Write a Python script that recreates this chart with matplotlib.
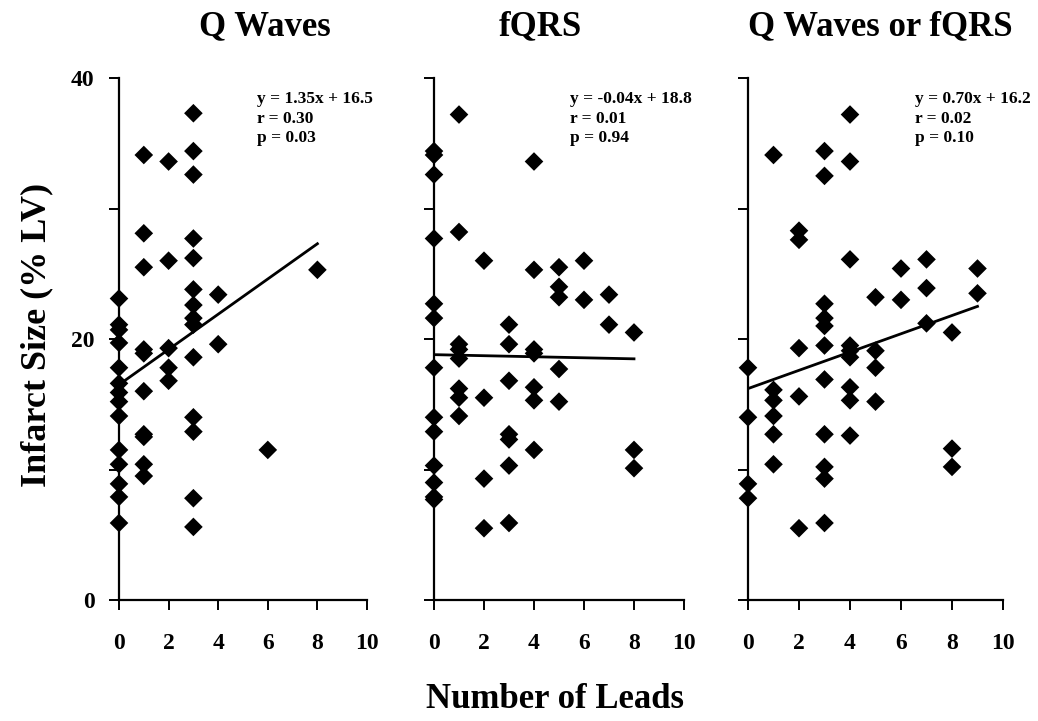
import numpy as np
import matplotlib
matplotlib.use("Agg")
import matplotlib.pyplot as plt

plt.rcParams['font.family'] = ['Liberation Serif', 'DejaVu Serif']
plt.rcParams['font.weight'] = 'bold'

# Q Waves panel
q_x = [0] * 14 + [1] * 10 + [2] * 5 + [3] * 14 + [4] * 2 + [6, 8]
q_y = [23.1, 21.1, 20.7, 19.7, 17.8, 16.6, 15.9, 15.2, 14.1, 11.5, 10.4, 8.9, 7.9, 5.9,
       34.1, 28.1, 25.5, 19.2, 18.9, 16.0, 12.7, 12.5, 10.4, 9.5,
       33.6, 26.0, 19.3, 17.8, 16.8,
       37.3, 34.4, 32.6, 27.7, 26.2, 23.8, 22.6, 21.6, 21.1, 18.6, 14.0, 12.9, 7.8, 5.6,
       23.4, 19.6,
       11.5, 25.3]

# fQRS panel
f_x = ([0] * 13 + [1] * 8 + [2] * 4 + [3] * 7 + [4] * 7 + [5] * 5
       + [6] * 2 + [7] * 2 + [8] * 3)
f_y = [34.4, 34.1, 32.6, 27.7, 22.7, 21.6, 17.8, 14.0, 12.9, 10.3, 9.0, 7.9, 7.7,
       37.2, 28.2, 19.6, 19.2, 18.5, 16.2, 15.5, 14.1,
       26.0, 15.5, 9.3, 5.5,
       21.1, 19.6, 16.8, 12.7, 12.3, 10.3, 5.9,
       33.6, 25.3, 19.2, 18.9, 16.3, 15.3, 11.5,
       25.5, 24.0, 23.2, 17.7, 15.2,
       26.0, 23.0,
       23.4, 21.1,
       20.5, 11.5, 10.1]

# Q Waves or fQRS panel
b_x = ([0] * 4 + [1] * 6 + [2] * 5 + [3] * 11 + [4] * 9 + [5] * 4
       + [6] * 2 + [7] * 3 + [8] * 3 + [9] * 2)
b_y = [17.8, 14.0, 8.9, 7.8,
       34.1, 16.1, 15.3, 14.1, 12.7, 10.4,
       28.3, 27.6, 19.3, 15.6, 5.5,
       34.4, 32.5, 22.7, 21.6, 21.0, 19.5, 16.9, 12.7, 10.2, 9.3, 5.9,
       37.2, 33.6, 26.1, 19.5, 19.1, 18.6, 16.3, 15.3, 12.6,
       23.2, 19.1, 17.8, 15.2,
       25.4, 23.0,
       26.1, 23.9, 21.2,
       20.5, 11.6, 10.2,
       25.4, 23.5]

titles = ['Q Waves', 'fQRS', 'Q Waves or fQRS']
slopes = [1.35, -0.04, 0.70]
intercepts = [16.5, 18.8, 16.2]
fit_max = [8, 8, 9]
stats = ['y = 1.35x + 16.5\nr = 0.30\np = 0.03',
         'y = -0.04x + 18.8\nr = 0.01\np = 0.94',
         'y = 0.70x + 16.2\nr = 0.02\np = 0.10']
text_x = [5.55, 5.42, 6.55]
title_x = [265, 540, 880]

xs = [q_x, f_x, b_x]
ys = [q_y, f_y, b_y]

W, H = 1038, 721
fig = plt.figure(figsize=(W / 100, H / 100), dpi=100)

lefts = [119, 434, 748]
rights = [367, 684, 1003]
top, bottom = 78, 600

for i in range(3):
    ax = fig.add_axes([lefts[i] / W, 1 - bottom / H,
                       (rights[i] - lefts[i]) / W, (bottom - top) / H])
    ax.set_xlim(0, 10)
    ax.set_ylim(0, 40)
    ax.spines['top'].set_visible(False)
    ax.spines['right'].set_visible(False)
    ax.spines['left'].set_linewidth(1.6)
    ax.spines['bottom'].set_linewidth(1.6)
    ax.tick_params(direction='out', length=7.5, width=1.4, labelsize=17)
    ax.tick_params(axis='x', pad=16)
    ax.tick_params(axis='y', pad=10)
    ax.set_xticks([0, 2, 4, 6, 8, 10])
    ax.set_yticks([0, 10, 20, 30, 40])
    if i == 0:
        ax.set_yticklabels(['0', '', '20', '', '40'])
    else:
        ax.set_yticklabels([])
    for lbl in ax.get_xticklabels() + ax.get_yticklabels():
        lbl.set_fontweight('bold')

    ax.scatter(xs[i], ys[i], marker='D', s=90, c='black',
               edgecolors='none', clip_on=False, zorder=3)
    fx = np.array([0, fit_max[i]])
    ax.plot(fx, slopes[i] * fx + intercepts[i], color='black',
            linewidth=2, zorder=4)
    ax.text(text_x[i], 39.0, stats[i], fontsize=12.5, fontweight='bold',
            va='top', ha='left', linespacing=1.3)

    fig.text(title_x[i] / W, 1 - 27 / H, titles[i], fontsize=25,
             fontweight='bold', ha='center', va='center')

fig.text(37 / W, 1 - 335 / H, 'Infarct Size (% LV)', fontsize=26,
         fontweight='bold', rotation=90, ha='center', va='center')
fig.text(555 / W, 1 - 700 / H, 'Number of Leads', fontsize=25,
         fontweight='bold', ha='center', va='center')

fig.savefig('out.png', dpi=100)
